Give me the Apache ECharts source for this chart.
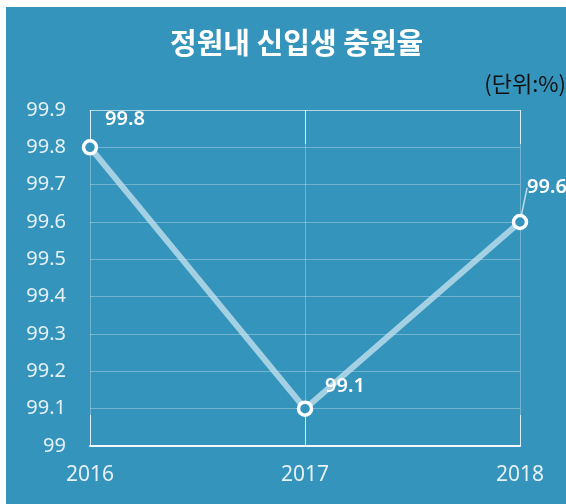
<!DOCTYPE html>
<html>
<head>
<meta charset="utf-8">
<script src="https://cdn.jsdelivr.net/npm/echarts@6/dist/echarts.min.js"></script>
<style>
  html, body { margin: 0; padding: 0; background: #fff; }
  #chart { width: 566px; height: 504px; }
</style>
</head>
<body>
<div id="chart"></div>
<script>
  // 정원내 신입생 충원율 데이터
  const years = ['2016', '2017', '2018']
  const rates = [99.8, 99.1, 99.6]
  const labelShift = [[35, -5], [40, 1], [27, -11]]

  const bg = '#3594bb'
  const chart = echarts.init(document.getElementById('chart'))

  chart.setOption({
    backgroundColor: '#fff',
    animation: false,
    graphic: [
      { type: 'rect', left: 6, top: 7, shape: { width: 560, height: 497 }, style: { fill: bg }, z: -10 },
      {
        type: 'text', left: 170, top: 28,
        style: { text: '정원내 신입생 충원율', fill: '#fff', font: 'bold 29px "Noto Sans CJK KR"' }
      },
      {
        type: 'text', right: 0, top: 73,
        style: { text: '(단위:%)', fill: '#111', font: '22px "Noto Sans CJK KR"' }
      }
    ],
    grid: { left: 90, right: 46, top: 110, bottom: 58 },
    xAxis: [{
      type: 'category',
      data: years,
      boundaryGap: false,
      axisLine: { lineStyle: { color: '#f2f8fb', width: 2 } },
      axisTick: { show: true, inside: true, length: 31, lineStyle: { color: 'rgba(255,255,255,0.75)', width: 1 } },
      axisLabel: { color: '#e6f1f7', fontSize: 21, margin: 19, fontFamily: 'Noto Sans' },
      splitLine: { show: true, lineStyle: { color: 'rgba(255,255,255,0.3)', width: 1 } }
    }, {
      type: 'category',
      data: years,
      position: 'top',
      boundaryGap: false,
      axisLine: { lineStyle: { color: 'rgba(255,255,255,0.45)', width: 1 } },
      axisTick: { show: true, inside: true, length: 34, lineStyle: { color: 'rgba(255,255,255,0.75)', width: 1 } },
      axisLabel: { show: false }
    }],
    yAxis: {
      type: 'value',
      min: 99,
      max: 99.9,
      interval: 0.1,
      axisLine: { show: false },
      axisTick: { show: false },
      axisLabel: { color: '#e6f1f7', fontSize: 20, margin: 24, fontFamily: 'Noto Sans' },
      splitLine: { lineStyle: { color: 'rgba(255,255,255,0.3)', width: 1 } }
    },
    series: [{
      type: 'line',
      data: rates.map((v, i) => ({
        value: v,
        labelLine: { show: i === 2 }
      })),
      symbol: 'circle',
      symbolSize: 13,
      lineStyle: { color: 'rgba(200,228,240,0.75)', width: 6 },
      itemStyle: { color: bg, borderColor: '#fff', borderWidth: 3.5 },
      label: {
        show: true,
        position: 'top',
        color: '#fff',
        fontSize: 20,
        fontFamily: 'Noto Sans',
        fontWeight: 600
      },
      labelLine: { lineStyle: { color: 'rgba(220,238,246,0.8)', width: 1.5 } },
      labelLayout: function (params) {
        const s = labelShift[params.dataIndex]
        return { dx: s[0], dy: s[1] }
      },
      z: 5
    }]
  })
</script>
</body>
</html>
